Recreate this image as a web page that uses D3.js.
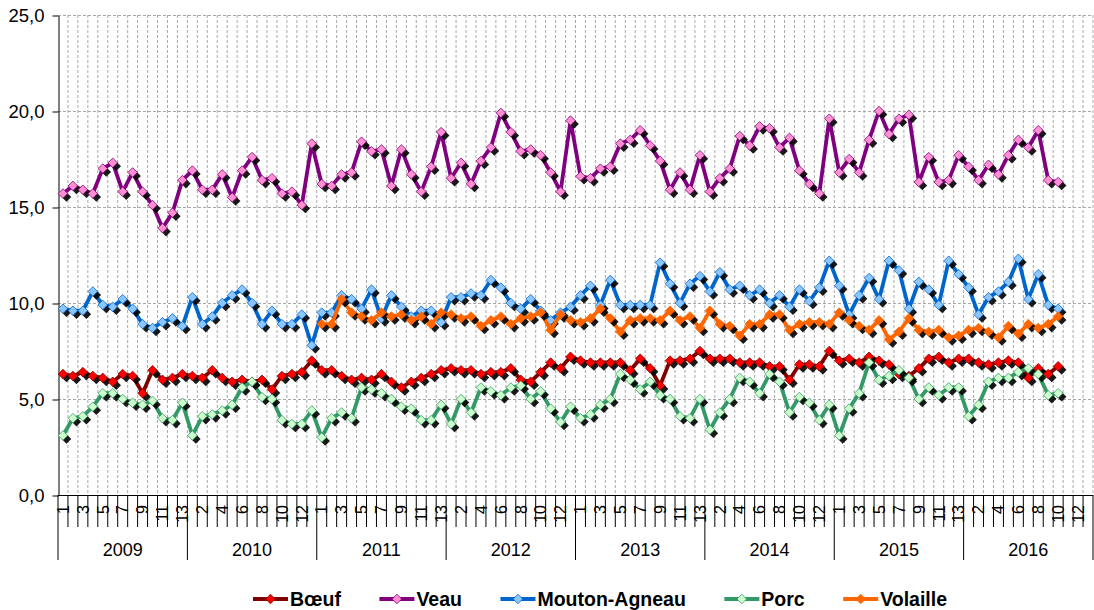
<!DOCTYPE html>
<html>
<head>
<meta charset="utf-8">
<script src="https://cdn.jsdelivr.net/npm/d3@7"></script>
<style>
  html, body { margin: 0; padding: 0; background: #fff; }
  svg { display: block; font-family: "Liberation Sans", Arial, Helvetica, sans-serif; }
</style>
</head>
<body>
<svg id="chart" width="1094" height="610"></svg>
<script>
// ---- data -------------------------------------------------------------
const years = [2009, 2010, 2011, 2012, 2013, 2014, 2015, 2016];
const periods = [1, 2, 3, 4, 5, 6, 7, 8, 9, 10, 11, 12, 13];
const yTicks = [0, 5, 10, 15, 20, 25];
const seriesNames = ["Bœuf", "Veau", "Mouton-Agneau", "Porc", "Volaille"];

const boeuf = [
  6.3, 6.2, 6.4, 6.2, 6.1, 5.9, 6.3, 6.2, 5.3, 6.5, 6.0, 6.1, 6.3,
  6.2, 6.1, 6.5, 6.1, 5.9, 6.0, 5.9, 6.0, 5.5, 6.2, 6.3, 6.4, 7.0,
  6.5, 6.5, 6.2, 6.0, 6.1, 6.0, 6.3, 5.9, 5.6, 5.9, 6.1, 6.3, 6.5,
  6.6, 6.5, 6.5, 6.3, 6.4, 6.4, 6.6, 6.0, 5.9, 6.4, 6.9, 6.6, 7.2,
  7.0, 6.9, 6.9, 6.9, 6.9, 6.5, 7.1, 6.6, 5.7, 7.0, 7.0, 7.1, 7.5,
  7.1, 7.1, 7.1, 6.9, 6.9, 6.9, 6.7, 6.7, 6.0, 6.8, 6.8, 6.7, 7.5,
  7.0, 7.1, 6.9, 7.2, 7.0, 6.8, 6.3, 6.2, 6.6, 7.1, 7.2, 6.9, 7.1,
  7.1, 6.9, 6.8, 6.9, 7.0, 6.9, 6.1, 6.6, 6.3, 6.7
];
const veau = [
  15.7, 16.1, 15.9, 15.7, 17.0, 17.3, 15.8, 16.8, 15.8, 15.1, 13.9, 14.7, 16.4,
  16.9, 15.9, 15.9, 16.7, 15.5, 16.9, 17.6, 16.4, 16.5, 15.7, 15.8, 15.1, 18.3,
  16.2, 16.1, 16.7, 16.8, 18.4, 17.9, 18.0, 16.1, 18.0, 16.7, 15.8, 17.1, 18.9,
  16.5, 17.3, 16.2, 17.4, 18.1, 19.9, 18.9, 17.9, 18.0, 17.7, 16.8, 15.8, 19.5,
  16.6, 16.5, 17.0, 17.1, 18.3, 18.5, 19.0, 18.2, 17.4, 15.9, 16.8, 15.9, 17.7,
  15.8, 16.5, 17.0, 18.7, 18.2, 19.2, 19.1, 18.1, 18.6, 16.9, 16.2, 15.7, 19.6,
  16.8, 17.5, 16.8, 18.5, 20.0, 18.8, 19.6, 19.8, 16.3, 17.6, 16.3, 16.4, 17.7,
  17.1, 16.4, 17.2, 16.7, 17.7, 18.5, 18.1, 19.0, 16.4, 16.3
];
const moutonAgneau = [
  9.7, 9.6, 9.6, 10.6, 9.9, 9.8, 10.2, 9.7, 8.9, 8.7, 9.0, 9.2, 8.8,
  10.3, 8.9, 9.3, 10.0, 10.4, 10.7, 10.0, 8.9, 9.6, 8.9, 8.9, 9.4, 7.8,
  9.5, 9.5, 10.4, 10.2, 9.7, 10.7, 9.2, 10.4, 9.8, 9.3, 9.6, 9.6, 9.0,
  10.3, 10.3, 10.5, 10.4, 11.2, 10.8, 10.0, 9.7, 10.2, 9.6, 9.1, 9.5, 9.8,
  10.4, 10.9, 9.9, 11.2, 9.9, 9.9, 9.9, 9.9, 12.1, 11.0, 10.0, 11.0, 11.4,
  10.6, 11.6, 10.7, 10.9, 10.4, 10.7, 10.0, 10.4, 9.8, 10.7, 10.1, 10.8, 12.2,
  10.9, 9.4, 10.4, 11.3, 10.2, 12.2, 11.7, 9.7, 11.1, 10.7, 9.9, 12.2, 11.5,
  10.8, 9.4, 10.3, 10.6, 11.1, 12.3, 10.2, 11.5, 9.9, 9.7
];
const porc = [
  3.1, 4.0, 4.1, 4.6, 5.3, 5.3, 5.0, 4.8, 4.7, 4.9, 4.0, 3.9, 4.8,
  3.1, 4.1, 4.2, 4.4, 4.7, 5.6, 5.9, 5.1, 5.0, 3.9, 3.7, 3.7, 4.4,
  3.0, 4.0, 4.3, 4.0, 5.6, 5.5, 5.3, 5.0, 4.6, 4.5, 3.9, 3.9, 4.7,
  3.7, 5.0, 4.3, 5.6, 5.4, 5.2, 5.6, 5.7, 5.0, 5.4, 4.5, 3.8, 4.6,
  4.0, 4.2, 4.7, 5.0, 6.3, 6.0, 5.5, 5.9, 5.2, 5.0, 4.1, 4.0, 5.0,
  3.4, 4.3, 5.0, 6.1, 5.9, 5.3, 6.3, 5.9, 4.3, 5.1, 4.8, 3.9, 4.7,
  3.1, 4.5, 5.3, 6.9, 6.0, 6.2, 6.5, 6.1, 5.0, 5.6, 5.2, 5.6, 5.6,
  4.1, 4.7, 5.9, 6.1, 6.1, 6.4, 6.6, 6.3, 5.2, 5.3
];
const volaille = [
  null, null, null, null, null, null, null, null, null, null, null, null, null,
  null, null, null, null, null, null, null, null, null, null, null, null, null,
  8.9, 8.9, 10.2, 9.5, 9.3, 9.1, 9.5, 9.3, 9.4, 9.1, 9.3, 8.9, 9.5,
  9.4, 9.2, 9.3, 8.8, 9.1, 9.3, 8.9, 9.2, 9.3, 9.5, 8.6, 9.4, 9.1,
  9.0, 9.2, 9.7, 9.2, 8.5, 9.1, 9.2, 9.2, 9.1, 9.6, 9.1, 9.3, 8.7,
  9.6, 8.9, 8.8, 8.3, 8.9, 8.9, 9.4, 9.4, 8.6, 8.9, 9.0, 9.0, 8.9,
  9.5, 9.1, 8.8, 8.6, 9.1, 8.1, 8.5, 9.2, 8.6, 8.5, 8.6, 8.2, 8.3,
  8.6, 8.7, 8.5, 8.2, 8.8, 8.4, 8.9, 8.7, 8.9, 9.3
];

// ---- series styling ---------------------------------------------------
const series = [
  { name: seriesNames[0], values: boeuf,        line: "#800000", fill: "#ff0000", edge: "#800000" },
  { name: seriesNames[1], values: veau,         line: "#800080", fill: "#ff8fd0", edge: "#800080" },
  { name: seriesNames[2], values: moutonAgneau, line: "#0066cc", fill: "#8cc6ff", edge: "#0066cc" },
  { name: seriesNames[3], values: porc,         line: "#339966", fill: "#ccffcc", edge: "#339966" },
  { name: seriesNames[4], values: volaille,     line: "#ff6600", fill: "#ff6600", edge: "#ff6600" }
];

// ---- layout -----------------------------------------------------------
const plot = { left: 58, right: 1093, top: 15, bottom: 495 };
const categories = years.flatMap(yr => periods.map(p => ({ year: yr, period: p })));

const x = d3.scaleBand()
  .domain(d3.range(categories.length))
  .range([plot.left, plot.right])
  .paddingInner(0).paddingOuter(0);
const step = x.step();
const cx = i => x(i) + step / 2;
const boundary = k => plot.left + k * step;

const y = d3.scaleLinear().domain([0, 25]).range([plot.bottom, plot.top]);

const frFormat = d3.formatLocale({ decimal: ",", thousands: " ", grouping: [3], currency: ["", " €"] }).format(".1f");

const svg = d3.select("#chart");

// ---- gridlines --------------------------------------------------------
const grid = svg.append("g").attr("class", "grid")
  .attr("stroke", "#a8a8a8").attr("stroke-width", 1).attr("stroke-dasharray", "3,2").attr("fill", "none");

grid.selectAll("line.h")
  .data(yTicks.filter(t => t > 0))
  .join("line").attr("class", "h")
  .attr("x1", plot.left).attr("x2", plot.right)
  .attr("y1", d => Math.round(y(d)) + 0.5).attr("y2", d => Math.round(y(d)) + 0.5);

grid.selectAll("line.v")
  .data(d3.range(1, categories.length + 1))
  .join("line").attr("class", "v")
  .attr("x1", k => boundary(k)).attr("x2", k => boundary(k))
  .attr("y1", plot.top).attr("y2", plot.bottom);

// ---- y axis -----------------------------------------------------------
const yAxis = d3.axisLeft(y)
  .tickValues(yTicks)
  .tickFormat(frFormat)
  .tickSize(6)
  .tickSizeOuter(0)
  .tickPadding(8);

const gy = svg.append("g")
  .attr("transform", `translate(${plot.left + 0.5},0.5)`)
  .call(yAxis);
gy.select(".domain").attr("stroke", "#000");
gy.selectAll(".tick line").attr("stroke", "#000");
gy.selectAll(".tick text")
  .attr("fill", "#000")
  .style("font-size", "18.5px")
  .style("font-family", "'Liberation Sans', Arial, sans-serif");

// ---- x axis (two-level category axis) ---------------------------------
const gx = svg.append("g").attr("class", "x-axis");

gx.append("line")
  .attr("x1", plot.left).attr("x2", plot.right)
  .attr("y1", plot.bottom + 0.5).attr("y2", plot.bottom + 0.5)
  .attr("stroke", "#000");

gx.selectAll("line.tick")
  .data(d3.range(0, categories.length + 1))
  .join("line").attr("class", "tick")
  .attr("x1", k => boundary(k)).attr("x2", k => boundary(k))
  .attr("y1", plot.bottom)
  .attr("y2", k => (k % periods.length === 0) ? 560 : 527)
  .attr("stroke", "#000").attr("stroke-width", 1);

gx.selectAll("text.period")
  .data(categories.map((c, i) => ({ ...c, i })).filter(c => c.i % 2 === 0))
  .join("text").attr("class", "period")
  .attr("transform", d => `translate(${cx(d.i)},505) rotate(-90)`)
  .attr("text-anchor", "end")
  .attr("dy", "0.36em")
  .style("font-size", "16px")
  .attr("fill", "#000")
  .text(d => d.period);

gx.selectAll("text.year")
  .data(years)
  .join("text").attr("class", "year")
  .attr("x", (yr, j) => (boundary(j * periods.length) + boundary((j + 1) * periods.length)) / 2)
  .attr("y", 550)
  .attr("dy", "0.36em")
  .attr("text-anchor", "middle")
  .style("font-size", "18px")
  .attr("fill", "#000")
  .text(yr => yr);

// ---- series -----------------------------------------------------------
const diamond = d3.symbol().type(d3.symbolDiamond2).size(58);
const shadowOffset = 3.5;

const line = d3.line()
  .defined(d => d != null)
  .x((d, i) => cx(i))
  .y(d => y(d));

series.forEach(s => {
  const g = svg.append("g").attr("class", "series");
  const pts = s.values.map((v, i) => ({ v, i })).filter(d => d.v != null);

  g.append("path")
    .attr("d", line(s.values))
    .attr("fill", "none")
    .attr("stroke", s.line)
    .attr("stroke-width", 3.8)
    .attr("stroke-linejoin", "round")
    .attr("stroke-linecap", "round");

  g.selectAll("path.shadow")
    .data(pts).join("path").attr("class", "shadow")
    .attr("d", diamond)
    .attr("transform", d => `translate(${cx(d.i) + shadowOffset},${y(d.v) + shadowOffset})`)
    .attr("fill", "#000")
    .attr("fill-opacity", 0.9);

  g.selectAll("path.marker")
    .data(pts).join("path").attr("class", "marker")
    .attr("d", diamond)
    .attr("transform", d => `translate(${cx(d.i)},${y(d.v)})`)
    .attr("fill", s.fill)
    .attr("stroke", s.edge)
    .attr("stroke-width", 0.8);
});

// ---- legend -----------------------------------------------------------
const legend = svg.append("g").attr("class", "legend");
const legendY = 599;
const segLen = 35, segGap = 2, itemGap = 38.5;
let lx = 253;

series.forEach(s => {
  const item = legend.append("g");
  item.append("line")
    .attr("x1", lx).attr("x2", lx + segLen)
    .attr("y1", legendY).attr("y2", legendY)
    .attr("stroke", s.line).attr("stroke-width", 4);
  item.append("path")
    .attr("d", diamond)
    .attr("transform", `translate(${lx + segLen / 2},${legendY})`)
    .attr("fill", s.fill).attr("stroke", s.edge).attr("stroke-width", 0.8);
  const t = item.append("text")
    .attr("x", lx + segLen + segGap)
    .attr("y", legendY)
    .attr("dy", "0.36em")
    .style("font-size", "19.5px")
    .style("font-weight", "bold")
    .attr("fill", "#000")
    .text(s.name);
  lx += segLen + segGap + t.node().getComputedTextLength() + itemGap;
});
</script>
</body>
</html>
